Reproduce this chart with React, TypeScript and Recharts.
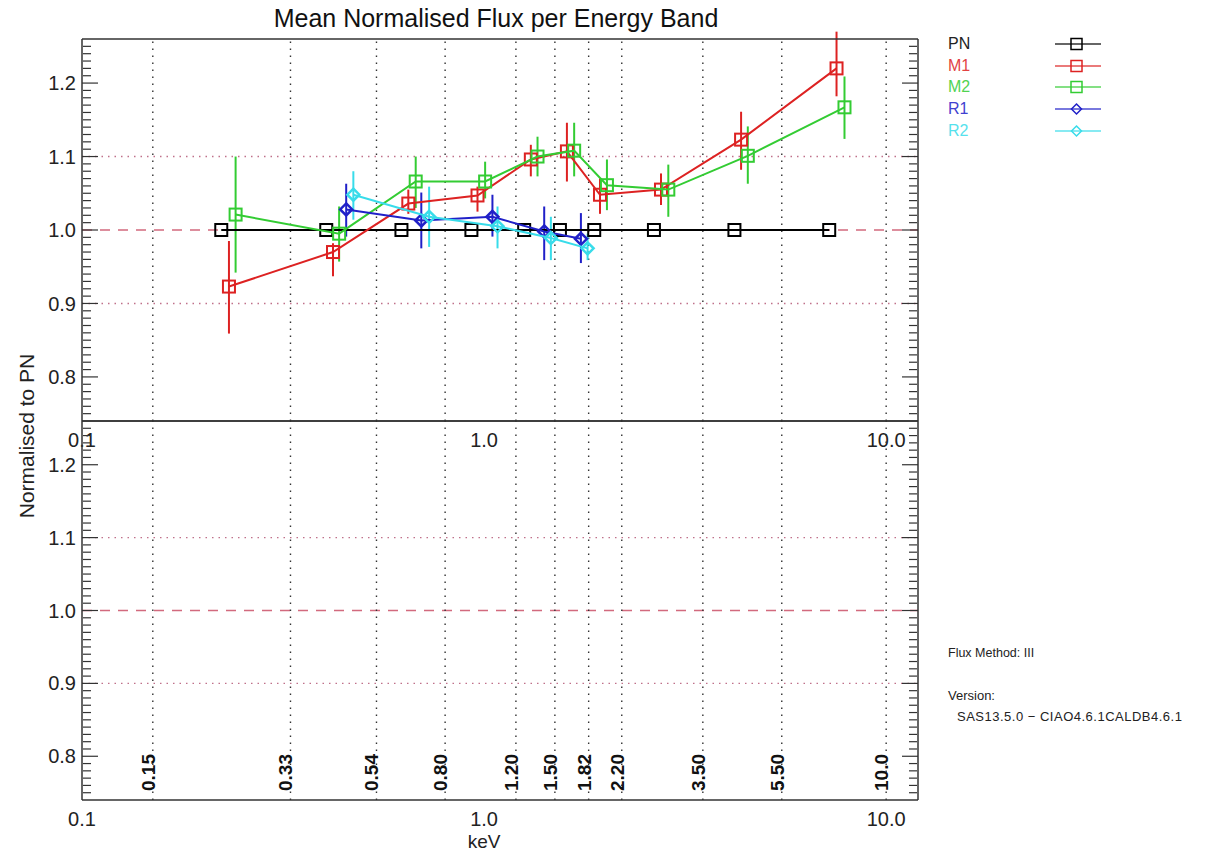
import React from 'react';
import { ComposedChart, Scatter, XAxis, YAxis, ReferenceLine, ErrorBar } from 'recharts';

// ---- data (energies in keV, values normalised to PN) ----
const BAND_EDGES = [0.15, 0.33, 0.54, 0.8, 1.2, 1.5, 1.82, 2.2, 3.5, 5.5, 10.0];
const BAND_LABELS = ['0.15', '0.33', '0.54', '0.80', '1.20', '1.50', '1.82', '2.20', '3.50', '5.50', '10.0'];

const PN_E = [0.222, 0.405, 0.623, 0.93, 1.258, 1.544, 1.879, 2.645, 4.194, 7.217];
const PN_V = [1.0, 1.0, 1.0, 1.0, 1.0, 1.0, 1.0, 1.0, 1.0, 1.0];
const PN_LO = [1.0, 1.0, 1.0, 1.0, 1.0, 1.0, 1.0, 1.0, 1.0, 1.0];
const PN_HI = [1.0, 1.0, 1.0, 1.0, 1.0, 1.0, 1.0, 1.0, 1.0, 1.0];

const M1_E = [0.232, 0.421, 0.648, 0.963, 1.307, 1.607, 1.942, 2.754, 4.357, 7.526];
const M1_V = [0.923, 0.97, 1.036, 1.047, 1.096, 1.107, 1.048, 1.055, 1.123, 1.22];
const M1_LO = [0.859, 0.937, 1.022, 1.025, 1.073, 1.066, 1.022, 1.034, 1.082, 1.182];
const M1_HI = [0.985, 0.982, 1.055, 1.059, 1.116, 1.146, 1.07, 1.077, 1.161, 1.27];

const M2_E = [0.241, 0.436, 0.676, 1.006, 1.358, 1.675, 2.021, 2.872, 4.528, 7.877];
const M2_V = [1.021, 0.995, 1.066, 1.066, 1.1, 1.108, 1.061, 1.055, 1.101, 1.167];
const M2_LO = [0.942, 0.957, 1.03, 1.043, 1.073, 1.073, 1.027, 1.018, 1.063, 1.124];
const M2_HI = [1.1, 1.032, 1.1, 1.093, 1.127, 1.146, 1.096, 1.089, 1.141, 1.209];

const R1_E = [0.454, 0.698, 1.049, 1.411, 1.741];
const R1_V = [1.028, 1.013, 1.018, 0.998, 0.988];
const R1_LO = [0.991, 0.975, 0.991, 0.959, 0.955];
const R1_HI = [1.063, 1.051, 1.048, 1.032, 1.023];

const R2_E = [0.473, 0.73, 1.08, 1.466, 1.809];
const R2_V = [1.048, 1.018, 1.005, 0.989, 0.975];
const R2_LO = [1.014, 0.977, 0.975, 0.959, 0.959];
const R2_HI = [1.08, 1.059, 1.032, 1.018, 0.995];

const X_MAJOR = [0.1, 1, 10];
const X_MAJOR_LABELS = ['0.1', '1.0', '10.0'];
const X_MINOR = [0.2, 0.3, 0.4, 0.5, 0.6, 0.7, 0.8, 0.9, 2, 3, 4, 5, 6, 7, 8, 9];
const Y_MAJOR = [0.8, 0.9, 1.0, 1.1, 1.2];
const Y_MINOR: number[] = [];
for (let i = 75; i <= 125; i++) if (i % 10 !== 0) Y_MINOR.push(i / 100);

const X_DOMAIN: [number, number] = [0.1, 12];
const Y_DOMAIN: [number, number] = [0.74, 1.26];

const C_PN = '#000000';
const C_M1 = '#dd2222';
const C_M2 = '#33cc33';
const C_R1 = '#2020c8';
const C_R2 = '#38dcea';

const SERIES = [
  { name: 'PN', color: C_PN, e: PN_E, v: PN_V, lo: PN_LO, hi: PN_HI, marker: 'square', err: false },
  { name: 'M1', color: C_M1, e: M1_E, v: M1_V, lo: M1_LO, hi: M1_HI, marker: 'square', err: true },
  { name: 'M2', color: C_M2, e: M2_E, v: M2_V, lo: M2_LO, hi: M2_HI, marker: 'square', err: true },
  { name: 'R1', color: C_R1, e: R1_E, v: R1_V, lo: R1_LO, hi: R1_HI, marker: 'diamond', err: true },
  { name: 'R2', color: C_R2, e: R2_E, v: R2_V, lo: R2_LO, hi: R2_HI, marker: 'diamond', err: true },
];

const build = (s: any) =>
  s.e.map((x: number, i: number) => ({ e: x, v: s.v[i], err: [s.v[i] - s.lo[i], s.hi[i] - s.v[i]] }));

const FONT = '"Liberation Sans", Arial, Helvetica, sans-serif';
const AXIS = '#333';

const makeShape = (marker: string, color: string) => (props: any) => {
  const { cx, cy } = props;
  if (cx == null || cy == null) return <g />;
  if (marker === 'square') {
    return <rect x={cx - 6} y={cy - 6} width={12} height={12} fill="none" stroke={color} strokeWidth={2} />;
  }
  return (
    <path
      d={`M${cx},${cy - 6} L${cx + 6},${cy} L${cx},${cy + 6} L${cx - 6},${cy} Z`}
      fill="none"
      stroke={color}
      strokeWidth={2.5}
    />
  );
};

const bandLabel = (txt: string) => (props: any) => {
  const vb = props.viewBox || {};
  const x = (vb.x ?? 0) + 2;
  const y = (vb.y ?? 0) + (vb.height ?? 0) - 9;
  return (
    <text
      x={x}
      y={y}
      transform={`rotate(-90 ${x} ${y})`}
      fontSize={19}
      fontWeight="bold"
      fill="#111"
      fontFamily={FONT}
    >
      {txt}
    </text>
  );
};

const fmtX = (v: number) => {
  const i = X_MAJOR.findIndex((t) => Math.abs(t - v) < 1e-9);
  return i >= 0 ? X_MAJOR_LABELS[i] : String(v);
};

const CW = 940;
const CH = 854;
const TICK_LINE = { stroke: AXIS, strokeWidth: 1.2 };
const NoLabel = () => <g />;

function Frame(showBandLabels: boolean) {
  const els: any[] = [];
  els.push(
    <XAxis
      key="x"
      xAxisId="x"
      dataKey="e"
      type="number"
      scale="log"
      domain={X_DOMAIN}
      allowDataOverflow
      ticks={X_MAJOR}
      interval={0}
      tickFormatter={fmtX}
      tickLine={false}
      axisLine={{ stroke: AXIS, strokeWidth: 1.5 }}
      height={30}
      tickMargin={6}
      tick={{ fontSize: 20, fill: '#222', fontFamily: FONT }}
    />,
    <XAxis key="xbM" xAxisId="xbM" type="number" scale="log" domain={X_DOMAIN} allowDataOverflow ticks={X_MAJOR} interval={0}
      mirror height={1} tickSize={10} tick={NoLabel} axisLine={false} tickLine={TICK_LINE} />,
    <XAxis key="xbm" xAxisId="xbm" type="number" scale="log" domain={X_DOMAIN} allowDataOverflow ticks={X_MINOR} interval={0}
      mirror height={1} tickSize={5} tick={NoLabel} axisLine={false} tickLine={TICK_LINE} />,
    <XAxis key="xtM" xAxisId="xtM" orientation="top" type="number" scale="log" domain={X_DOMAIN} allowDataOverflow ticks={X_MAJOR} interval={0}
      mirror height={1} tickSize={10} tick={NoLabel} axisLine={{ stroke: AXIS, strokeWidth: 1.5 }} tickLine={TICK_LINE} />,
    <XAxis key="xtm" xAxisId="xtm" orientation="top" type="number" scale="log" domain={X_DOMAIN} allowDataOverflow ticks={X_MINOR} interval={0}
      mirror height={1} tickSize={6} tick={NoLabel} axisLine={false} tickLine={TICK_LINE} />,
    <YAxis
      key="L"
      yAxisId="L"
      dataKey="v"
      type="number"
      domain={Y_DOMAIN}
      allowDataOverflow
      ticks={Y_MAJOR}
      interval={0}
      tickFormatter={(v: number) => v.toFixed(1)}
      tickLine={false}
      width={82}
      tickMargin={0}
      axisLine={{ stroke: AXIS, strokeWidth: 1.5 }}
      tick={{ fontSize: 20, fill: '#222', fontFamily: FONT }}
    />,
    <YAxis key="LM" yAxisId="LM" type="number" domain={Y_DOMAIN} allowDataOverflow ticks={Y_MAJOR} interval={0}
      mirror width={1} tickSize={16} tick={NoLabel} axisLine={false} tickLine={TICK_LINE} />,
    <YAxis key="Lm" yAxisId="Lm" type="number" domain={Y_DOMAIN} allowDataOverflow ticks={Y_MINOR} interval={0}
      mirror width={1} tickSize={8} tick={NoLabel} axisLine={false} tickLine={TICK_LINE} />,
    <YAxis key="RM" yAxisId="RM" orientation="right" type="number" domain={Y_DOMAIN} allowDataOverflow ticks={Y_MAJOR} interval={0}
      mirror width={1} tickSize={16} tick={NoLabel} axisLine={{ stroke: AXIS, strokeWidth: 1.5 }} tickLine={TICK_LINE} />,
    <YAxis key="Rm" yAxisId="Rm" orientation="right" type="number" domain={Y_DOMAIN} allowDataOverflow ticks={Y_MINOR} interval={0}
      mirror width={1} tickSize={8} tick={NoLabel} axisLine={false} tickLine={TICK_LINE} />
  );
  els.push(
    <ReferenceLine key="h09" xAxisId="x" yAxisId="L" y={0.9} stroke="#c0708a" strokeWidth={1.4} strokeDasharray="1.5 5" />,
    <ReferenceLine key="h11" xAxisId="x" yAxisId="L" y={1.1} stroke="#c0708a" strokeWidth={1.4} strokeDasharray="1.5 5" />,
    <ReferenceLine key="h10" xAxisId="x" yAxisId="L" y={1.0} stroke="#d26a7e" strokeWidth={1.5} strokeDasharray="10 8" />
  );
  BAND_EDGES.forEach((b, i) => {
    els.push(
      <ReferenceLine
        key={'v' + i}
        xAxisId="x"
        yAxisId="L"
        x={b}
        stroke="#333"
        strokeWidth={1.4}
        strokeDasharray="1.5 5.5"
        label={showBandLabels ? bandLabel(BAND_LABELS[i]) : undefined}
      />
    );
  });
  return els;
}

function Legend() {
  const rows = SERIES.map((s, i) => {
    const ly = [44, 66, 87, 109, 131][i];
    const ty = [49, 71, 92, 114, 136][i];
    return (
      <g key={s.name}>
        <text x={948} y={ty} fontSize={16} fill={s.name === 'PN' ? '#222' : s.color} fontFamily={FONT} opacity={s.name === 'PN' ? 1 : 0.85}>
          {s.name}
        </text>
        <line x1={1055} x2={1101} y1={ly} y2={ly} stroke={s.color} strokeWidth={1.5} opacity={0.8} />
        {s.marker === 'square' ? (
          <rect x={1071} y={ly - 5.5} width={11} height={11} fill="none" stroke={s.color} strokeWidth={1.5} />
        ) : (
          <path d={`M1076.5,${ly - 5} L1081.5,${ly} L1076.5,${ly + 5} L1071.5,${ly} Z`} fill="none" stroke={s.color} strokeWidth={1.5} />
        )}
      </g>
    );
  });
  return <g>{rows}</g>;
}

export default function App() {
  return (
    <div style={{ position: 'absolute', left: 0, top: 0, width: 1213, height: 854, background: '#fff', fontFamily: FONT }}>
      <div style={{ position: 'absolute', left: 0, top: 0 }}>
        <ComposedChart width={CW} height={CH} margin={{ top: 39, right: 22, bottom: 854 - 421 - 30, left: 0 }}>
          {Frame(false)}
          {SERIES.map((s) => (
            <Scatter
              key={s.name}
              name={s.name}
              data={build(s)}
              xAxisId="x"
              yAxisId="L"
              fill={s.color}
              line={{ stroke: s.color, strokeWidth: 2 }}
              lineType="joint"
              shape={makeShape(s.marker, s.color)}
              isAnimationActive={false}
            >
              {s.err ? <ErrorBar dataKey="err" direction="y" width={0} stroke={s.color} strokeWidth={2} /> : null}
            </Scatter>
          ))}
        </ComposedChart>
      </div>
      <div style={{ position: 'absolute', left: 0, top: 0 }}>
        <ComposedChart width={CW} height={CH} margin={{ top: 421, right: 22, bottom: 854 - 800 - 30, left: 0 }}>
          {Frame(true)}
        </ComposedChart>
      </div>
      <svg width={1213} height={854} style={{ position: 'absolute', left: 0, top: 0, pointerEvents: 'none' }}>
        <text x={496} y={27} textAnchor="middle" fontSize={25} fill="#111" fontFamily={FONT}>
          Mean Normalised Flux per Energy Band
        </text>
        <text x={34} y={436} transform="rotate(-90 34 436)" textAnchor="middle" fontSize={21} fill="#222" fontFamily={FONT}>
          Normalised to PN
        </text>
        <text x={484} y={848} textAnchor="middle" fontSize={19} fill="#222" fontFamily={FONT}>
          keV
        </text>
        <Legend />
        <text x={948} y={657} fontSize={12.5} fill="#222" fontFamily={FONT}>
          Flux Method: III
        </text>
        <text x={948} y={700} fontSize={13} fill="#222" fontFamily={FONT}>
          Version:
        </text>
        <text x={957} y={721} fontSize={13} letterSpacing={0.5} fill="#222" fontFamily={FONT}>
          SAS13.5.0 − CIAO4.6.1CALDB4.6.1
        </text>
      </svg>
    </div>
  );
}
